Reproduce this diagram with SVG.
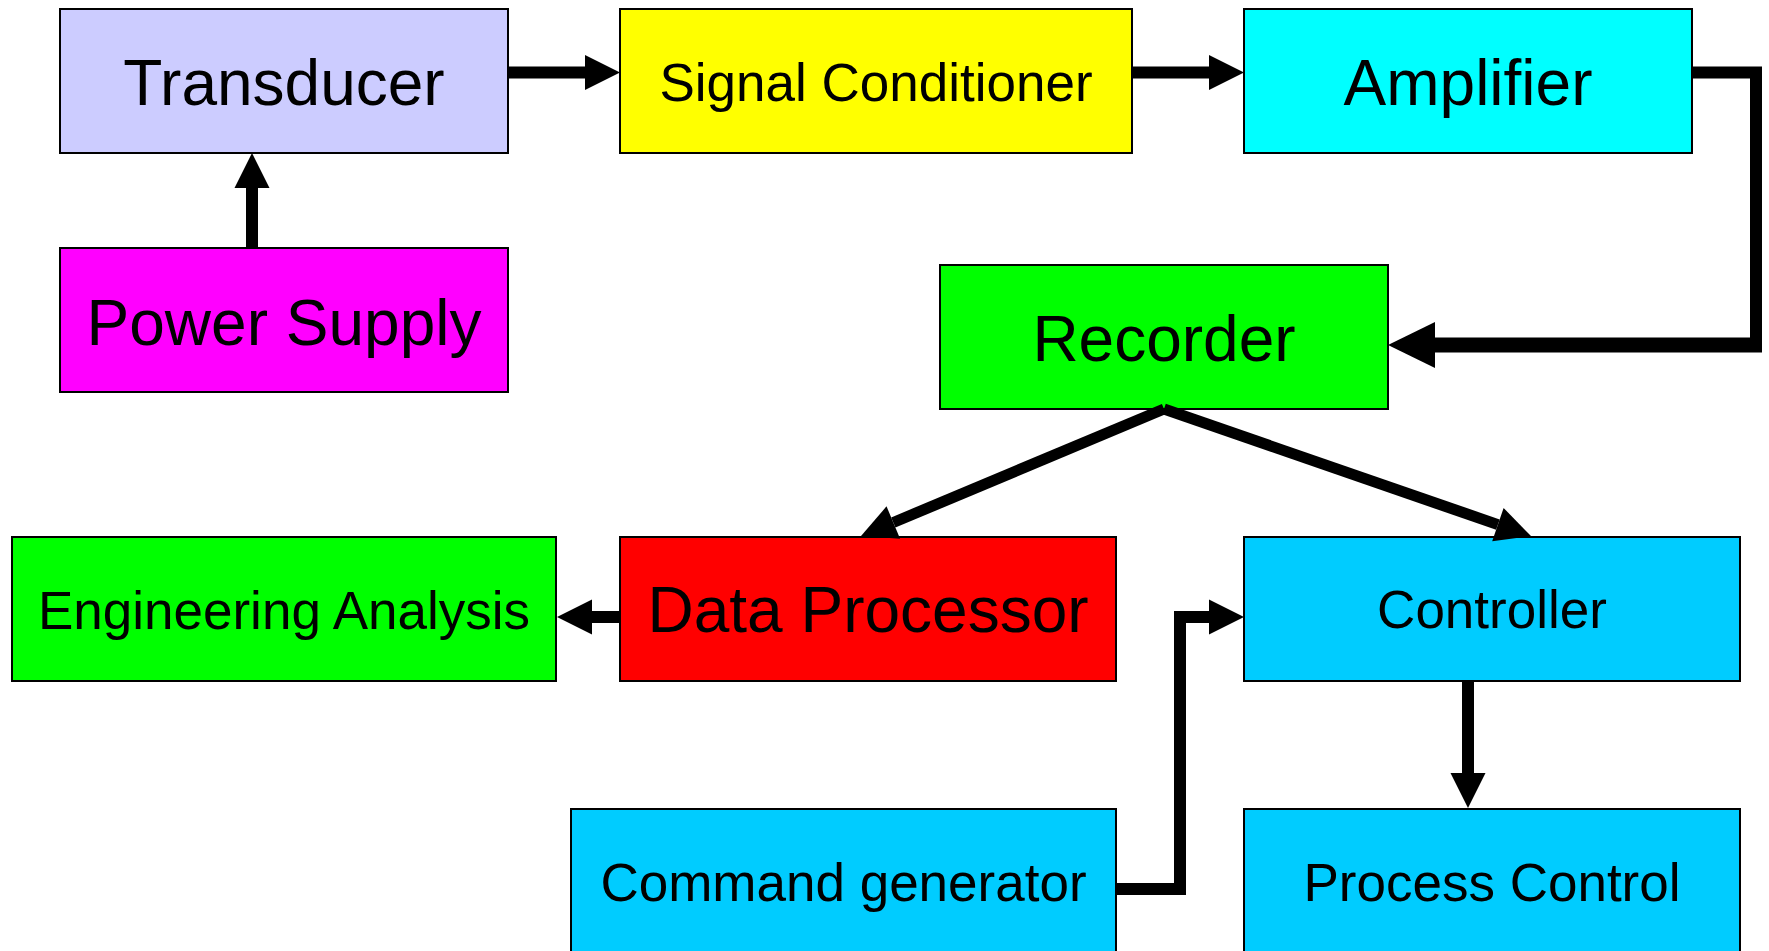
<svg xmlns="http://www.w3.org/2000/svg" width="1769" height="951" viewBox="0 0 1769 951">
  <style>
    .box { stroke: #000; stroke-width: 2; }
    .lbl { font-family: "Liberation Sans", Arial, sans-serif; fill: #000; text-anchor: middle; }
    .big { font-size: 64px; }
    .med { font-size: 53px; }
    .wire { fill: none; stroke: #000; stroke-width: 12; stroke-linejoin: miter; }
  </style>
  <defs>
    <marker id="head" markerUnits="userSpaceOnUse" markerWidth="40" markerHeight="40" viewBox="0 -20 40 40" refX="0" refY="0" orient="auto" overflow="visible">
      <path d="M0,-17.5 L35,0 L0,17.5 Z" fill="#000"/>
    </marker>
    <marker id="headBig" markerUnits="userSpaceOnUse" markerWidth="50" markerHeight="50" viewBox="0 -25 50 50" refX="0" refY="0" orient="auto" overflow="visible">
      <path d="M0,-23 L47,0 L0,23 Z" fill="#000"/>
    </marker>
  </defs>

  <rect width="1769" height="951" fill="#fff"/>

  <g id="transducer">
    <rect class="box" x="60" y="9" width="448" height="144" fill="#CCCCFF"/>
    <text class="lbl big" x="284" y="105">Transducer</text>
  </g>
  <g id="power-supply">
    <rect class="box" x="60" y="248" width="448" height="144" fill="#FF00FF"/>
    <text class="lbl big" x="284" y="345">Power Supply</text>
  </g>
  <g id="signal-conditioner">
    <rect class="box" x="620" y="9" width="512" height="144" fill="#FFFF00"/>
    <text class="lbl med" x="876" y="101">Signal Conditioner</text>
  </g>
  <g id="amplifier">
    <rect class="box" x="1244" y="9" width="448" height="144" fill="#00FFFF"/>
    <text class="lbl big" x="1468" y="105">Amplifier</text>
  </g>
  <g id="recorder">
    <rect class="box" x="940" y="265" width="448" height="144" fill="#00FF00"/>
    <text class="lbl big" x="1164" y="361">Recorder</text>
  </g>
  <g id="engineering-analysis">
    <rect class="box" x="12" y="537" width="544" height="144" fill="#00FF00"/>
    <text class="lbl med" x="284" y="629">Engineering Analysis</text>
  </g>
  <g id="data-processor">
    <rect class="box" x="620" y="537" width="496" height="144" fill="#FF0000"/>
    <text class="lbl big" x="868" y="632">Data Processor</text>
  </g>
  <g id="controller">
    <rect class="box" x="1244" y="537" width="496" height="144" fill="#00CCFF"/>
    <text class="lbl med" x="1492" y="628">Controller</text>
  </g>
  <g id="command-generator">
    <rect class="box" x="571" y="809" width="545" height="144" fill="#00CCFF"/>
    <text class="lbl med" x="843.5" y="901">Command generator</text>
  </g>
  <g id="process-control">
    <rect class="box" x="1244" y="809" width="496" height="144" fill="#00CCFF"/>
    <text class="lbl med" x="1492" y="901">Process Control</text>
  </g>

  <g id="connectors">
    <!-- top row -->
    <path class="wire" d="M508,72.5 H585" marker-end="url(#head)"/>
    <path class="wire" d="M1132,72.5 H1209" marker-end="url(#head)"/>
    <!-- power feed -->
    <path class="wire" d="M252,248 V188" marker-end="url(#head)"/>
    <!-- amplifier loop back to recorder -->
    <path class="wire" d="M1692,72.5 H1756 V345"/>
    <path class="wire" style="stroke-width:15" d="M1762,345 H1435" marker-end="url(#headBig)"/>
    <!-- recorder fan-out -->
    <path class="wire" style="stroke-width:11" d="M1164,409 L893.3,522.5" marker-end="url(#head)"/>
    <path class="wire" style="stroke-width:11" d="M1164,409 L1497.9,524.6" marker-end="url(#head)"/>
    <!-- data processor to analysis -->
    <path class="wire" d="M620,617 H592" marker-end="url(#head)"/>
    <!-- controller to process control -->
    <path class="wire" d="M1468,681 V773" marker-end="url(#head)"/>
    <!-- command generator to controller -->
    <path class="wire" d="M1116,889 H1180 V617 H1209" marker-end="url(#head)"/>
  </g>
</svg>
